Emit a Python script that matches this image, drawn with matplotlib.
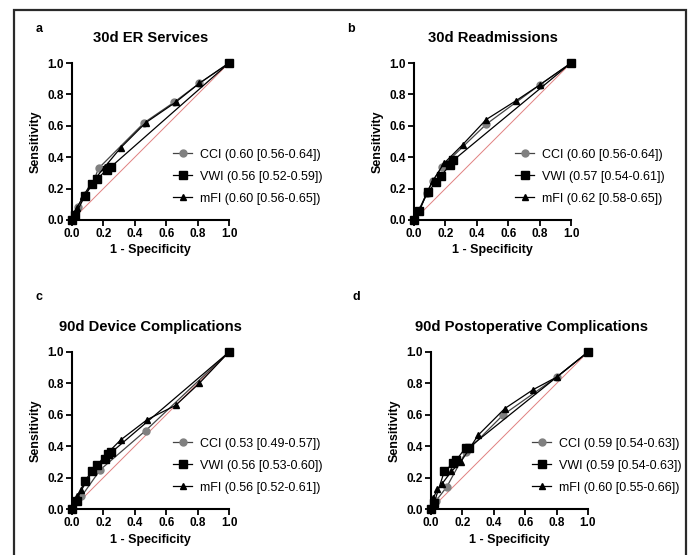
import numpy as np
import matplotlib.pyplot as plt
from matplotlib.patches import Rectangle

plt.rcParams['font.family'] = ['Liberation Sans', 'DejaVu Sans']

# --- dati ---
titles = ['30d ER Services', '30d Readmissions', '90d Device Complications',
          '90d Postoperative Complications']
letters = ['a', 'b', 'c', 'd']

cci_lbl = ['CCI (0.60 [0.56-0.64])', 'CCI (0.60 [0.56-0.64])',
           'CCI (0.53 [0.49-0.57])', 'CCI (0.59 [0.54-0.63])']
vwi_lbl = ['VWI (0.56 [0.52-0.59])', 'VWI (0.57 [0.54-0.61])',
           'VWI (0.56 [0.53-0.60])', 'VWI (0.59 [0.54-0.63])']
mfi_lbl = ['mFI (0.60 [0.56-0.65])', 'mFI (0.62 [0.58-0.65])',
           'mFI (0.56 [0.52-0.61])', 'mFI (0.60 [0.55-0.66])']

cci_x = [[0, 0.02, 0.04, 0.08, 0.13, 0.17, 0.46, 0.65, 0.81, 1.0],
         [0, 0.03, 0.08, 0.12, 0.18, 0.46, 0.80, 1.0],
         [0, 0.06, 0.18, 0.47, 1.0],
         [0, 0.03, 0.10, 0.22, 0.46, 0.80, 1.0]]
cci_y = [[0, 0.04, 0.08, 0.16, 0.23, 0.33, 0.62, 0.75, 0.87, 1.0],
         [0, 0.06, 0.17, 0.25, 0.34, 0.61, 0.86, 1.0],
         [0, 0.08, 0.25, 0.50, 1.0],
         [0, 0.05, 0.14, 0.36, 0.60, 0.84, 1.0]]

vwi_x = [[0, 0.02, 0.08, 0.13, 0.16, 0.22, 0.25, 1.0],
         [0, 0.03, 0.09, 0.14, 0.17, 0.23, 0.25, 1.0],
         [0, 0.03, 0.08, 0.13, 0.16, 0.21, 0.23, 0.25, 1.0],
         [0, 0.02, 0.085, 0.14, 0.16, 0.22, 0.24, 1.0]]
vwi_y = [[0, 0.03, 0.15, 0.23, 0.26, 0.32, 0.34, 1.0],
         [0, 0.06, 0.18, 0.24, 0.28, 0.35, 0.38, 1.0],
         [0, 0.05, 0.18, 0.24, 0.28, 0.32, 0.35, 0.36, 1.0],
         [0, 0.04, 0.24, 0.29, 0.31, 0.39, 0.39, 1.0]]

mfi_x = [[0, 0.03, 0.07, 0.12, 0.21, 0.31, 0.47, 0.66, 0.81, 1.0],
         [0, 0.04, 0.08, 0.12, 0.19, 0.31, 0.46, 0.65, 0.80, 1.0],
         [0, 0.03, 0.06, 0.13, 0.21, 0.31, 0.48, 0.66, 0.81, 1.0],
         [0, 0.015, 0.04, 0.07, 0.13, 0.19, 0.30, 0.47, 0.65, 0.80, 1.0]]
mfi_y = [[0, 0.075, 0.15, 0.23, 0.34, 0.46, 0.62, 0.75, 0.87, 1.0],
         [0, 0.07, 0.17, 0.25, 0.36, 0.48, 0.64, 0.76, 0.86, 1.0],
         [0, 0.08, 0.12, 0.24, 0.34, 0.44, 0.57, 0.66, 0.80, 1.0],
         [0, 0.07, 0.125, 0.16, 0.24, 0.30, 0.47, 0.64, 0.76, 0.84, 1.0]]

ticks = [0.0, 0.2, 0.4, 0.6, 0.8, 1.0]

W, H = 692, 555
fig = plt.figure(figsize=(W / 100, H / 100), dpi=100)

# posizione assi in pixel (sinistra, alto)
pos = [(72, 63), (414, 63), (72, 352), (431, 352)]
size = 157
title_x = [0.5, 0.5, 0.5, 0.637]
letter_pos = [(39, 29), (351, 29), (39, 297), (356, 297)]

# cornice esterna
fig.patches.append(Rectangle((14 / W, -0.05), (686 - 14) / W, 1.05 - 10 / H,
                             transform=fig.transFigure, fill=False,
                             edgecolor='#2a2a2a', lw=1.6))

for i in range(4):
    l, t = pos[i]
    ax = fig.add_axes([l / W, 1 - (t + size) / H, size / W, size / H])
    ax.plot([0, 1], [0, 1], color='#e08080', lw=0.7, zorder=1)
    ax.plot(cci_x[i], cci_y[i], '-o', color='#444444', mfc='#808080', mec='#808080',
            ms=5, lw=0.9, clip_on=False, label=cci_lbl[i], zorder=3)
    ax.plot(vwi_x[i], vwi_y[i], '-s', color='black', ms=5.5, lw=0.9,
            clip_on=False, label=vwi_lbl[i], zorder=4)
    ax.plot(mfi_x[i], mfi_y[i], '-^', color='black', ms=5, lw=0.9,
            clip_on=False, label=mfi_lbl[i], zorder=5)
    ax.set_xlim(0, 1)
    ax.set_ylim(0, 1)
    ax.set_xticks(ticks)
    ax.set_yticks(ticks)
    ax.set_xticklabels([f'{v:.1f}' for v in ticks], fontsize=8.5, fontweight='bold')
    ax.set_yticklabels([f'{v:.1f}' for v in ticks], fontsize=8.5, fontweight='bold')
    for s in ['top', 'right']:
        ax.spines[s].set_visible(False)
    for s in ['left', 'bottom']:
        ax.spines[s].set_linewidth(1.5)
    ax.tick_params(length=4, width=1.3, pad=2)
    ax.set_xlabel('1 - Specificity', fontsize=9, fontweight='bold', labelpad=3)
    ax.set_ylabel('Sensitivity', fontsize=9, fontweight='bold', labelpad=4)
    ax.text(title_x[i], 1.16, titles[i], transform=ax.transAxes, ha='center',
            va='center', fontsize=10.6, fontweight='bold')
    lx, ly = letter_pos[i]
    fig.text(lx / W, 1 - ly / H, letters[i], ha='center', va='center',
             fontsize=9, fontweight='bold')
    ax.legend(loc='center left', bbox_to_anchor=(0.645, 0.275), frameon=False,
              fontsize=9, handlelength=1.5, handletextpad=0.6,
              labelspacing=0.8, borderpad=0, borderaxespad=0, numpoints=1)

plt.savefig('out.png', dpi=100)
